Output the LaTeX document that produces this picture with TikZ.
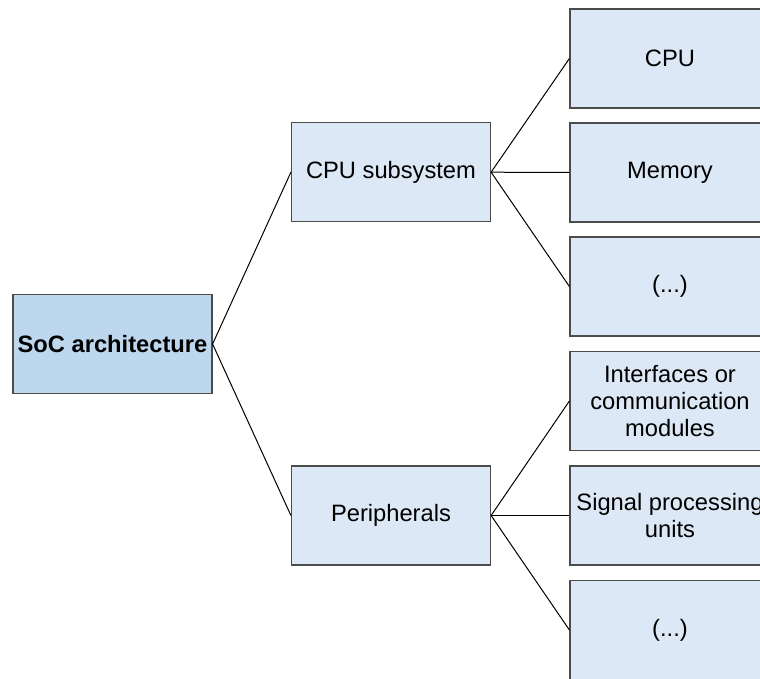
\documentclass[tikz,border=0pt]{standalone}
\usepackage{fontspec}
\setmainfont{Liberation Sans}
\begin{document}
\begin{tikzpicture}[x=1pt,y=-1pt,
  box/.style={draw=black!70, line width=1.2pt, fill=boxfill, minimum width=199pt,
    minimum height=99pt, inner sep=0pt, align=center,
    font=\fontsize{23.7}{27}\selectfont},
  rootbox/.style={box, fill=rootfill, font=\fontsize{23.7}{27}\selectfont\bfseries},
  link/.style={draw=black, line width=1pt}]
\definecolor{boxfill}{RGB}{220,232,245}
\definecolor{rootfill}{RGB}{189,215,238}
\useasboundingbox (0,0) rectangle (760,679);
\clip (0,0) rectangle (760,679);
% tree levels
\node[rootbox] (soc) at (112.5,344) {SoC architecture};
\node[box] (cpus) at (391,172.2) {CPU subsystem};
\node[box] (peri) at (391,515.5) {Peripherals};
\node[box, minimum width=200pt] (cpu) at (670,58.5) {CPU};
\node[box, minimum width=200pt] (mem) at (670,172.5) {Memory};
\node[box, minimum width=200pt] (dots1) at (670,286.5) {(...)};
\node[box, minimum width=200pt] (ifc) at (670,401) {Interfaces or\\communication\\modules};
\node[box, minimum width=200pt] (dsp) at (670,515.5) {Signal processing\\units};
\node[box, minimum width=200pt] (dots2) at (670,630) {(...)};
% connectors
\draw[link] (soc.east) -- (cpus.west);
\draw[link] (soc.east) -- (peri.west);
\draw[link] (cpus.east) -- (cpu.west);
\draw[link] (cpus.east) -- (mem.west);
\draw[link] (cpus.east) -- (dots1.west);
\draw[link] (peri.east) -- (ifc.west);
\draw[link] (peri.east) -- (dsp.west);
\draw[link] (peri.east) -- (dots2.west);
\end{tikzpicture}
\end{document}
